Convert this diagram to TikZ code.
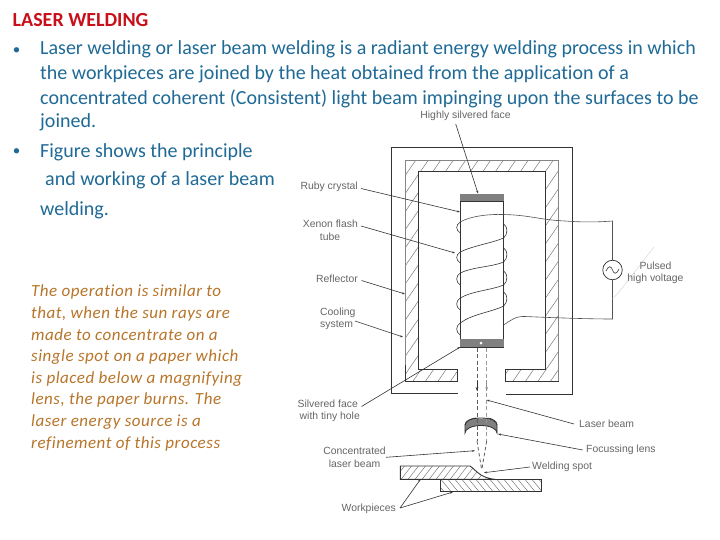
\documentclass[tikz,border=0pt]{standalone}
\usepackage{fontspec}
\setmainfont[RawFeature=-liga]{Carlito}
\newfontfamily\lblfont{Liberation Sans}
\usetikzlibrary{arrows.meta}
\definecolor{bodyblue}{HTML}{1F6A96}
\definecolor{headred}{HTML}{C8101A}
\definecolor{noteorange}{HTML}{B8752A}
\definecolor{inkline}{HTML}{333333}
\definecolor{lblgray}{HTML}{666666}
\tikzset{
  body/.style={anchor=base west,inner sep=0pt,text=bodyblue,font=\fontsize{20}{24}\selectfont},
  bulletmark/.style={anchor=center,inner sep=0pt,text=bodyblue,font=\fontsize{15}{17}\selectfont},
  head/.style={anchor=base west,inner sep=0pt,text=headred,font=\fontsize{20}{24}\selectfont\bfseries},
  note/.style={anchor=base west,inner sep=0pt,text=noteorange,font=\fontsize{17}{20}\selectfont\itshape\addfontfeatures{LetterSpace=3}},
  lbl/.style={inner sep=0pt,text=lblgray,font=\fontsize{10.4}{12}\selectfont\lblfont},
  wall/.style={draw=inkline,line width=.9pt},
  hatchline/.style={draw=inkline!70,line width=.45pt},
  leader/.style={draw=inkline,line width=.6pt,-{Stealth[length=3pt,width=2pt]}},
  wire/.style={draw=inkline,line width=.6pt},
  beamdash/.style={draw=inkline!80,line width=.9pt,dash pattern=on 4pt off 2.5pt},
}
\begin{document}
\begin{tikzpicture}[x=1pt,y=-1pt]
\useasboundingbox[fill=white] (0,0) rectangle (720,540);
% text
\node[head] (t0) at (12.5,26.5) {LASER WELDING};
\node[bulletmark] (b1) at (16.5,51.5) {•};
\node[body] (t1) at (40,55) {Laser welding or laser beam welding is a radiant energy welding process in which};
\node[body] (t2) at (40,80) {the workpieces are joined by the heat obtained from the application of a};
\node[body] (t3) at (40,104.5) {concentrated coherent (Consistent) light beam impinging upon the surfaces to be};
\node[body] (t4) at (40,128) {joined.};
\node[bulletmark] (b2) at (16.5,152.5) {•};
\node[body] (t5) at (40,158) {Figure shows the principle};
\node[body] (t6) at (45,186) {and working of a laser beam};
\node[body] (t7) at (40,215) {welding.};
\node[note] (n1) at (31,296.5) {The operation is similar to};
\node[note] (n2) at (31,318) {that, when the sun rays are};
\node[note] (n3) at (31,340) {made to concentrate on a};
\node[note] (n4) at (31,361.5) {single spot on a paper which};
\node[note] (n5) at (31,383) {is placed below a magnifying};
\node[note] (n6) at (31,404.5) {lens, the paper burns. The};
\node[note] (n7) at (31,426.5) {laser energy source is a};
\node[note] (n8) at (31,448.5) {refinement of this process};
% hatching of reflector
\begin{scope}
\clip (405.7,381.7) -- (405.7,160.7) -- (558.7,160.7) -- (558.7,381.7) -- (505.7,381.7) -- (505.7,369.5) -- (545.3,369.5) -- (545.3,171.7) -- (418.3,171.7) -- (418.3,369.5) -- (457.7,369.5) -- (457.7,381.7) -- cycle;
\foreach \k in {0,1,...,45} \draw[hatchline] (150+12.5*\k,400) -- (150+12.5*\k+235,60);
\end{scope}
\draw[draw=inkline!60,line width=.6pt] (405.7,369) -- (405.7,160.7) -- (558.7,160.7) -- (558.7,381.7);
\draw[wall] (405.7,365) -- (405.7,381.7) -- (457.7,381.7) -- (457.7,369.5) -- (418.3,369.5) -- (418.3,171.7) -- (545.3,171.7) -- (545.3,369.5) -- (505.7,369.5) -- (505.7,381.7) -- (558.7,381.7);
% outer casing
\draw[wall] (457.7,393.5) -- (391.7,393.5) -- (391.7,147.7) -- (572.7,147.7) -- (572.7,394) -- (505.7,394);
% ruby crystal
\draw[wall,fill=white] (460.3,194) rectangle (503.7,347.3);
\fill[black!50] (460.3,194) rectangle (503.7,201.7);
\draw[wall] (460.3,201.7) -- (503.7,201.7);
\fill[black!50] (460.3,339.3) rectangle (503.7,347.3);
\draw[wall] (460.3,347.3) -- (503.7,347.3);
\fill[white] (481,343.2) circle (1.5pt);
% coil: bumps
\draw[wire] (460.3,222) .. controls (455.5,225) and (455.5,230) .. (460.3,233);
\draw[wire] (460.3,252) .. controls (455.5,255) and (455.5,260) .. (460.3,263);
\draw[wire] (460.3,273) .. controls (455.5,276) and (455.5,282) .. (460.3,285);
\draw[wire] (460.3,298) .. controls (455.5,301) and (455.5,307) .. (460.3,310);
\draw[wire] (460.3,323) .. controls (455.5,326) and (455.5,332) .. (460.3,335);
\draw[wire] (503.7,224) .. controls (508,227) and (508,234) .. (503.7,238);
\draw[wire] (503.7,248) .. controls (508,251) and (508,258) .. (503.7,262);
\draw[wire] (503.7,271) .. controls (508,274) and (508,281) .. (503.7,285);
\draw[wire] (503.7,292) .. controls (508,295) and (508,302) .. (503.7,306);
% coil: front turns
\draw[wire] (460.3,252) .. controls (472,246) and (492,243) .. (503.7,238);
\draw[wire] (460.3,273) .. controls (472,267) and (492,267) .. (503.7,262);
\draw[wire] (460.3,298) .. controls (472,291) and (492,290) .. (503.7,285);
\draw[wire] (460.3,323) .. controls (472,314) and (492,312) .. (503.7,306);
% supply
\node[circle,draw=inkline,line width=.7pt,minimum size=19.5pt,inner sep=0pt] (src) at (612.5,270) {};
\draw[wire] (606,271) .. controls (609,265) and (611,266) .. (612.5,270) .. controls (614,274) and (616,275) .. (619,269);
\coordinate (coilTop) at (460.3,222);
\coordinate (coilBot) at (503.7,325);
\draw[wire,draw=inkline!85] (coilTop) .. controls (470,216) and (490,214) .. (503,214.5) .. controls (530,215) and (540,220) .. (565,221) .. controls (585,222.5) and (600,222) .. (612.5,221) -- (src.north);
\draw[wire,draw=inkline!85] (src.south) -- (612.5,319) .. controls (590,319) and (560,318) .. (525,316.5) .. controls (515,316) and (510,321) .. (coilBot);
\draw[black!18,line width=.4pt] (612.5,299) -- (619,292) -- (654,247);
% beam
\coordinate (bl1) at (477,347.5); \coordinate (bl2) at (477,441);
\coordinate (br1) at (486.7,347.5); \coordinate (br2) at (486.7,441);
\coordinate (fx) at (481.7,470);
% lens
\fill[black!50] (465,425.5) arc[start angle=180,end angle=360,x radius=16,y radius=7] -- (497,433) arc[start angle=360,end angle=180,x radius=16,y radius=7.5] -- cycle;
\draw[wire,line width=.8pt] (465,425) -- (465,433) arc[start angle=180,end angle=360,x radius=16,y radius=7.5] -- (497,425);
\draw[wire,line width=.8pt] (465,425) arc[start angle=180,end angle=360,x radius=16,y radius=7];
\draw[wire,line width=.8pt] (465,425) .. controls (465,421) and (471,418.5) .. (476,418);
\draw[wire,line width=.8pt] (497,425) .. controls (497,421) and (492,418.5) .. (487.5,418);
\draw[beamdash] (bl1) -- (bl2);
\draw[beamdash,draw=black!40] (br1) -- (br2);
\draw[draw=inkline,line width=.6pt,-{Stealth[length=4pt,width=2.5pt]}] (477,381) -- (477,391);
\draw[draw=black!45,line width=.6pt,-{Stealth[length=4pt,width=2.5pt]}] (486.7,381) -- (486.7,391);
\draw[beamdash,line width=.8pt,dash pattern=on 3.5pt off 2.5pt] (bl2) -- (fx);
\draw[beamdash,line width=.8pt,dash pattern=on 3.5pt off 2.5pt] (br2) -- (fx);
% workpieces
\begin{scope}
\clip (400.3,466) -- (470,466) -- (485,478.5) -- (495,479.3) -- (400.3,479.3) -- cycle;
\foreach \k in {0,7,...,120} \draw[hatchline] (392+\k,482) -- (392+\k+14,464);
\end{scope}
\begin{scope}
\clip (440,479.3) rectangle (541.7,491.7);
\foreach \k in {0,7,...,120} \draw[hatchline] (432+\k,477) -- (432+\k+14,494);
\end{scope}
\draw[wall] (495,479.3) -- (400.3,479.3) -- (400.3,466) -- (470,466) .. controls (476,470) and (480,478) .. (495,479.3);
\draw[wall] (440,479.3) -- (440,491.7) -- (541.7,491.7) -- (541.7,479.3) -- (495,479.3);
% labels
\node[lbl] (lHigh) at (465.5,116) {Highly silvered face};
\node[lbl,anchor=east] (lRuby) at (358,187) {Ruby crystal};
\node[lbl,anchor=east] (lXenon) at (358,224) {Xenon flash};
\node[lbl] (lTube) at (330,236.5) {tube};
\node[lbl,anchor=east] (lRefl) at (358,279) {Reflector};
\node[lbl,anchor=west] (lCool) at (320,312.5) {Cooling};
\node[lbl,anchor=west] (lSys) at (320,325) {system};
\node[lbl,anchor=east] (lSilv) at (358,404) {Silvered face};
\node[lbl,anchor=east] (lHole) at (360,416.5) {with tiny hole};
\node[lbl] (lConc) at (354.5,451) {Concentrated};
\node[lbl] (lBeam) at (354.5,463.5) {laser beam};
\node[lbl,anchor=east] (lWork) at (396,509) {Workpieces};
\node[lbl,anchor=west] (lLaser) at (579,423.7) {Laser beam};
\node[lbl,anchor=west] (lFocus) at (586,449.5) {Focussing lens};
\node[lbl,anchor=west] (lWeld) at (532,467) {Welding spot};
\node[lbl] (lPuls) at (655.5,266) {Pulsed};
\node[lbl] (lHigh2) at (655.5,278.5) {high voltage};
% leaders
\coordinate (tHigh) at (478,193.5);
\coordinate (tRuby) at (460,212);
\coordinate (tXenon) at (455,253);
\coordinate (tRefl) at (405,294);
\coordinate (tCool) at (403,337);
\coordinate (tSilv) at (460.3,347);
\coordinate (tConc) at (475,450.7);
\coordinate (tW1) at (420.7,479);
\coordinate (tW2) at (453,492);
\coordinate (tLaser) at (486.7,400);
\coordinate (tFocus) at (498,434);
\coordinate (tWeld) at (484,472.7);
\coordinate (sHigh) at (455.7,124);
\coordinate (sRuby) at (361,188.5);
\coordinate (sXenon) at (361,226);
\coordinate (sRefl) at (361.5,280.5);
\coordinate (sCool) at (355,321);
\coordinate (sSilv) at (361.5,406.5);
\coordinate (sConc) at (386,457.3);
\coordinate (sWork) at (400,508);
\coordinate (sLaser) at (574,424);
\coordinate (sFocus) at (582.7,450);
\coordinate (sWeld) at (530,467);
\draw[leader] (sHigh) -- (tHigh);
\draw[leader] (sRuby) -- (tRuby);
\draw[leader] (sXenon) -- (tXenon);
\draw[leader] (sRefl) -- (tRefl);
\draw[leader] (sCool) -- (tCool);
\draw[leader] (sSilv) -- (tSilv);
\draw[leader] (sConc) -- (tConc);
\draw[leader] (sWork) -- (tW1);
\draw[leader] (sWork) -- (tW2);
\draw[leader] (sLaser) -- (tLaser);
\draw[leader] (sFocus) -- (tFocus);
\draw[leader] (sWeld) -- (tWeld);
\end{tikzpicture}
\end{document}
